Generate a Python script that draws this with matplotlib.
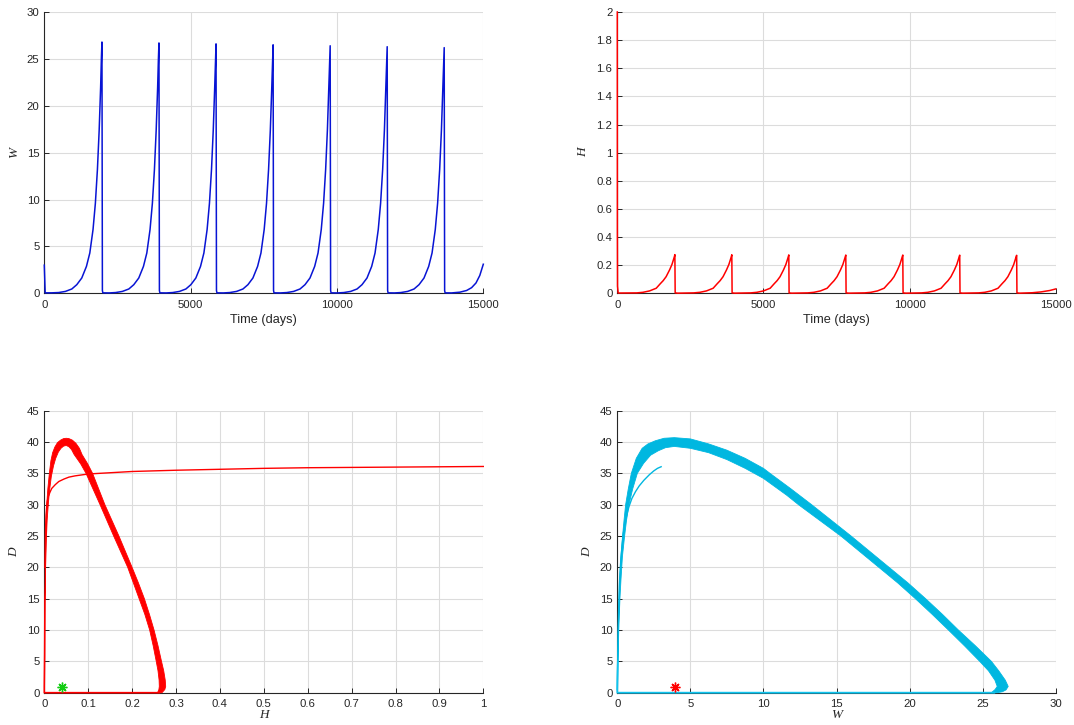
import numpy as np
import matplotlib
matplotlib.use("Agg")
import matplotlib.pyplot as plt
from matplotlib.ticker import FuncFormatter

# ---------------- data ----------------
# W(t) time series: (day, W)
w_days = [0, 30, 250,
          490, 720, 940, 1110, 1280, 1440, 1555, 1665, 1745, 1815, 1875, 1925, 1952, 1970, 1985, 2000, 2220,
          2438, 2668, 2888, 3058, 3228, 3388, 3503, 3613, 3693, 3763, 3823, 3873, 3900, 3918, 3933, 3948, 4168,
          4388, 4618, 4838, 5008, 5178, 5338, 5453, 5563, 5643, 5713, 5773, 5823, 5850, 5868, 5883, 5898, 6118,
          6338, 6568, 6788, 6958, 7128, 7288, 7403, 7513, 7593, 7663, 7723, 7773, 7800, 7818, 7833, 7848, 8068,
          8288, 8518, 8738, 8908, 9078, 9238, 9353, 9463, 9543, 9613, 9673, 9723, 9750, 9768, 9783, 9798, 10018,
          10236, 10466, 10686, 10856, 11026, 11186, 11301, 11411, 11491, 11561, 11621, 11671, 11698, 11716, 11731, 11746, 11966,
          12184, 12414, 12634, 12804, 12974, 13134, 13249, 13359, 13439, 13509, 13569, 13619, 13646, 13664, 13679, 13694, 13914,
          14200, 14430, 14600, 14750, 14880, 15000]
w_values = [3.0, 0.05, 0.05,
            0.08, 0.2, 0.46, 0.92, 1.63, 2.87, 4.3, 6.8, 9.6, 13.2, 17.4, 22.0, 25.2, 26.8, 0.3, 0.05, 0.04,
            0.08, 0.2, 0.46, 0.92, 1.63, 2.87, 4.3, 6.8, 9.6, 13.2, 17.4, 22.0, 25.1, 26.7, 0.3, 0.05, 0.04,
            0.08, 0.2, 0.46, 0.92, 1.63, 2.87, 4.3, 6.8, 9.6, 13.2, 17.4, 22.0, 25.0, 26.6, 0.3, 0.05, 0.04,
            0.08, 0.2, 0.46, 0.92, 1.63, 2.87, 4.3, 6.8, 9.6, 13.2, 17.4, 22.0, 24.9, 26.5, 0.3, 0.05, 0.04,
            0.08, 0.2, 0.46, 0.92, 1.63, 2.87, 4.3, 6.8, 9.6, 13.2, 17.4, 22.0, 24.8, 26.4, 0.3, 0.05, 0.04,
            0.08, 0.2, 0.46, 0.92, 1.63, 2.87, 4.3, 6.8, 9.6, 13.2, 17.4, 22.0, 24.7, 26.3, 0.3, 0.05, 0.04,
            0.08, 0.2, 0.46, 0.92, 1.63, 2.87, 4.3, 6.8, 9.6, 13.2, 17.4, 22.0, 24.6, 26.2, 0.3, 0.05, 0.04,
            0.12, 0.3, 0.6, 1.1, 1.9, 3.1]

# H(t) time series: (day, H)
h_days = [0, 3, 8, 30,
          670, 876, 1104, 1332, 1470, 1570, 1670, 1788, 1870, 1920, 1955, 1970, 1980, 2070,
          2618, 2824, 3052, 3280, 3418, 3518, 3618, 3736, 3818, 3868, 3903, 3918, 3928, 4018,
          4568, 4774, 5002, 5230, 5368, 5468, 5568, 5686, 5768, 5818, 5853, 5868, 5878, 5968,
          6518, 6724, 6952, 7180, 7318, 7418, 7518, 7636, 7718, 7768, 7803, 7818, 7828, 7918,
          8468, 8674, 8902, 9130, 9268, 9368, 9468, 9586, 9668, 9718, 9753, 9768, 9778, 9868,
          10416, 10622, 10850, 11078, 11216, 11316, 11416, 11534, 11616, 11666, 11701, 11716, 11726, 11816,
          12364, 12570, 12798, 13026, 13164, 13264, 13364, 13482, 13564, 13614, 13649, 13664, 13674, 13764,
          14200, 14500, 14800, 15000]
h_values = [2.0, 0.45, 0.05, 0.002,
            0.003, 0.007, 0.017, 0.036, 0.068, 0.09, 0.118, 0.166, 0.205, 0.238, 0.262, 0.275, 0.003, 0.001,
            0.003, 0.007, 0.017, 0.036, 0.068, 0.09, 0.118, 0.166, 0.205, 0.238, 0.262, 0.274, 0.003, 0.001,
            0.003, 0.007, 0.017, 0.036, 0.068, 0.09, 0.118, 0.166, 0.205, 0.238, 0.262, 0.273, 0.003, 0.001,
            0.003, 0.007, 0.017, 0.036, 0.068, 0.09, 0.118, 0.166, 0.205, 0.238, 0.262, 0.272, 0.003, 0.001,
            0.003, 0.007, 0.017, 0.036, 0.068, 0.09, 0.118, 0.166, 0.205, 0.238, 0.262, 0.272, 0.003, 0.001,
            0.003, 0.007, 0.017, 0.036, 0.068, 0.09, 0.118, 0.166, 0.205, 0.238, 0.262, 0.271, 0.003, 0.001,
            0.003, 0.007, 0.017, 0.036, 0.068, 0.09, 0.118, 0.166, 0.205, 0.238, 0.262, 0.270, 0.003, 0.001,
            0.004, 0.01, 0.02, 0.031]

# Phase plane D vs H
hd_transient_H = [1.0, 0.8, 0.6, 0.5, 0.4, 0.3, 0.2, 0.1, 0.07, 0.056, 0.045, 0.033, 0.025, 0.017,
                  0.013, 0.009, 0.007, 0.0055, 0.004, 0.003, 0.0022, 0.0015]
hd_transient_D = [36.1, 36.0, 35.9, 35.8, 35.65, 35.5, 35.3, 34.9, 34.6, 34.4, 34.1, 33.7, 33.2, 32.6,
                  32.0, 31.3, 30.6, 29.7, 28.3, 26.5, 24.0, 20.0]
hd_outer_H = [0.268, 0.2745, 0.2765, 0.2755, 0.272, 0.267, 0.259, 0.250, 0.2395, 0.228, 0.2145, 0.200,
              0.185, 0.170, 0.154, 0.138, 0.124, 0.110, 0.099, 0.086, 0.080, 0.072, 0.064, 0.056,
              0.050, 0.044, 0.037, 0.030, 0.024, 0.019, 0.015, 0.0115, 0.008, 0.0055, 0.004, 0.003,
              0.002, 0.0012]
hd_outer_D = [0.0, 0.5, 1.0, 2.0, 3.5, 5.0, 7.5, 10.0, 12.5, 15.0, 17.5, 20.0,
              22.5, 25.0, 27.5, 30.0, 32.5, 35.0, 36.5, 38.0, 39.0, 39.8, 40.3, 40.55,
              40.6, 40.55, 40.3, 39.9, 39.2, 38.3, 37.0, 35.0, 32.5, 30.0, 27.5, 25.0,
              20.0, 15.0]
hd_inner_H = [0.258, 0.261, 0.262, 0.2615, 0.259, 0.255, 0.248, 0.240, 0.229, 0.216, 0.203, 0.190,
              0.174, 0.158, 0.1425, 0.127, 0.111, 0.095, 0.083, 0.068, 0.062, 0.056, 0.050, 0.044,
              0.038, 0.032, 0.026, 0.021, 0.016, 0.012, 0.009, 0.0065, 0.005, 0.004, 0.003, 0.002]
hd_inner_D = [0.0, 0.5, 1.0, 2.0, 3.5, 5.0, 7.5, 10.0, 12.5, 15.0, 17.5, 20.0,
              22.5, 25.0, 27.5, 30.0, 32.5, 35.0, 36.5, 38.0, 38.8, 39.25, 39.45, 39.35,
              39.0, 38.4, 37.4, 36.2, 34.5, 32.3, 30.0, 27.5, 25.0, 22.5, 20.0, 15.0]
hd_base_H = [0.0015, 0.0008, 0.0, 0.0, 0.262]
hd_base_D = [15.0, 6.0, 1.0, 0.0, 0.0]
hd_star = (0.041, 0.96)

# Phase plane D vs W
wd_transient_W = [3.0, 2.75, 2.5, 2.2, 1.82, 1.5, 1.25, 1.0, 0.8, 0.65, 0.52, 0.42, 0.34, 0.25,
                  0.18, 0.14, 0.11, 0.05, 0.02, 0.0]
wd_transient_D = [36.06, 35.8, 35.4, 34.8, 33.9, 33.0, 32.1, 31.0, 29.7, 28.4, 27.0, 25.5, 23.8, 21.5,
                  19.0, 17.0, 14.8, 9.5, 4.1, 0.5]
wd_outer_W = [26.0, 26.35, 26.6, 26.75, 26.55, 26.1, 25.6, 24.5, 23.34, 22.25, 21.1, 19.9, 18.6,
              17.3, 16.0, 14.65, 13.3, 11.9, 10.45, 10.0, 8.75, 7.5, 6.25, 5.0, 3.9, 3.2, 2.6,
              2.1, 1.7, 1.3, 0.96, 0.75, 0.57, 0.46, 0.36, 0.25, 0.17, 0.12, 0.06, 0.03]
wd_outer_D = [0.0, 0.15, 0.45, 1.0, 2.0, 3.5, 5.0, 7.5, 10.0, 12.5, 15.0, 17.5, 20.0,
              22.5, 25.0, 27.5, 30.0, 32.5, 35.0, 35.8, 37.4, 38.7, 39.7, 40.5, 40.7, 40.6, 40.2,
              39.7, 39.0, 37.4, 35.0, 32.5, 30.0, 27.5, 25.0, 21.7, 18.0, 15.0, 10.0, 5.0]
wd_inner_W = [25.6, 25.85, 26.0, 25.84, 25.4, 24.8, 23.75, 22.66, 21.55, 20.4, 19.2, 17.9, 16.6,
              15.3, 13.85, 12.4, 11.6, 10.0, 8.75, 7.5, 6.25, 5.0, 3.9, 3.3, 2.8, 2.28, 1.8,
              1.37, 1.05, 0.8, 0.63, 0.5, 0.35, 0.25, 0.18, 0.1, 0.05]
wd_inner_D = [0.0, 0.5, 1.0, 2.0, 3.5, 5.0, 7.5, 10.0, 12.5, 15.0, 17.5, 20.0, 22.5,
              25.0, 27.5, 30.0, 31.5, 34.2, 35.8, 37.2, 38.3, 39.0, 39.3, 39.1, 38.6, 37.9, 36.6,
              35.0, 32.5, 30.0, 27.5, 25.0, 21.7, 18.0, 15.0, 10.0, 5.0]
wd_base_W = [0.04, 0.01, 0.0, 0.0, 25.8]
wd_base_D = [5.0, 2.0, 0.5, 0.0, 0.0]
wd_star = (3.95, 0.96)

# ---------------- styling ----------------
BLUE = '#0814D4'
RED = '#FF0000'
CYAN = '#00B7E0'
CYAN_LIGHT = '#10C4EE'
GREEN = '#10CC10'
AX_COL = '#262626'
GRID_COL = '#DCDCDC'
TICK_FONT = 'Liberation Sans'
LABEL_SERIF = 'Liberation Serif'

fig = plt.figure(figsize=(10.74, 7.25), dpi=100)
W_FIG, H_FIG = 1074.0, 725.0

def make_ax(x0, x1, ytop, ybot):
    return fig.add_axes([x0 / W_FIG, 1 - ybot / H_FIG, (x1 - x0) / W_FIG, (ybot - ytop) / H_FIG])

ax_tl = make_ax(44.3, 483.3, 12.0, 293.3)
ax_tr = make_ax(617.3, 1055.7, 12.0, 293.3)
ax_bl = make_ax(44.3, 483.3, 410.7, 692.7)
ax_br = make_ax(617.3, 1055.7, 410.7, 692.7)

fmt = FuncFormatter(lambda v, p: '%g' % round(v, 6))

def style(ax, xlim, ylim, xticks, yticks):
    ax.set_xlim(*xlim)
    ax.set_ylim(*ylim)
    ax.set_xticks(xticks)
    ax.set_yticks(yticks)
    ax.xaxis.set_major_formatter(fmt)
    ax.yaxis.set_major_formatter(fmt)
    for s in ('top', 'right'):
        ax.spines[s].set_visible(False)
    for s in ('left', 'bottom'):
        ax.spines[s].set_color(AX_COL)
        ax.spines[s].set_linewidth(0.8)
    ax.grid(True, color=GRID_COL, linewidth=0.8)
    ax.set_axisbelow(True)
    ax.tick_params(axis='both', direction='in', length=3.5, width=0.7, color=AX_COL,
                   labelcolor=AX_COL, labelsize=8.2)
    ax.tick_params(axis='x', pad=4.5)
    ax.tick_params(axis='y', pad=3.5)
    for lab in ax.get_xticklabels() + ax.get_yticklabels():
        lab.set_fontfamily(TICK_FONT)

def ylab(ax, text):
    ax.set_ylabel(text, fontsize=9.5, fontstyle='italic', fontfamily=LABEL_SERIF, color=AX_COL, labelpad=5)

# --- top-left: W(t)
style(ax_tl, (0, 15000), (0, 30), [0, 5000, 10000, 15000], np.arange(0, 31, 5))
ax_tl.plot(w_days, w_values, color=BLUE, lw=1.1, zorder=3, clip_on=False)
ax_tl.set_xlabel('Time (days)', fontsize=9.2, fontfamily=TICK_FONT, color=AX_COL, labelpad=3)
ylab(ax_tl, 'W')

# --- top-right: H(t)
style(ax_tr, (0, 15000), (0, 2), [0, 5000, 10000, 15000], np.round(np.arange(0, 2.01, 0.2), 1))
ax_tr.plot(h_days, h_values, color=RED, lw=1.1, zorder=3, clip_on=False)
ax_tr.set_xlabel('Time (days)', fontsize=9.2, fontfamily=TICK_FONT, color=AX_COL, labelpad=3)
ylab(ax_tr, 'H')

# --- bottom-left: D vs H
style(ax_bl, (0, 1), (0, 45), np.round(np.arange(0, 1.01, 0.1), 1), np.arange(0, 46, 5))
ax_bl.fill(np.concatenate([hd_outer_H, hd_inner_H[::-1]]),
           np.concatenate([hd_outer_D, hd_inner_D[::-1]]),
           color=RED, ec=RED, lw=0.6, zorder=3, clip_on=False)
ax_bl.plot(hd_transient_H, hd_transient_D, color=RED, lw=1.0, zorder=3, clip_on=False)
ax_bl.plot(hd_base_H, hd_base_D, color=RED, lw=1.2, zorder=3, clip_on=False)
ax_bl.plot([hd_star[0]], [hd_star[1]], linestyle='none', marker=(8, 2, 0), markersize=7,
           mew=1.0, color=GREEN, zorder=4)
ax_bl.set_xlabel('H', fontsize=9.5, fontstyle='italic', fontfamily=LABEL_SERIF, color=AX_COL, labelpad=0)
ylab(ax_bl, 'D')

# --- bottom-right: D vs W
style(ax_br, (0, 30), (0, 45), np.arange(0, 31, 5), np.arange(0, 46, 5))
ax_br.fill(np.concatenate([wd_outer_W, wd_inner_W[::-1]]),
           np.concatenate([wd_outer_D, wd_inner_D[::-1]]),
           color=CYAN, ec=CYAN, lw=0.6, zorder=3, clip_on=False)
ax_br.plot(wd_transient_W, wd_transient_D, color=CYAN, lw=1.0, zorder=3, clip_on=False)
ax_br.plot(wd_base_W, wd_base_D, color=CYAN_LIGHT, lw=1.3, zorder=3, clip_on=False)
ax_br.plot([wd_star[0]], [wd_star[1]], linestyle='none', marker=(8, 2, 0), markersize=7,
           mew=1.0, color=RED, zorder=4)
ax_br.set_xlabel('W', fontsize=9.5, fontstyle='italic', fontfamily=LABEL_SERIF, color=AX_COL, labelpad=0)
ylab(ax_br, 'D')

fig.savefig('out.png', dpi=100, facecolor='white')
